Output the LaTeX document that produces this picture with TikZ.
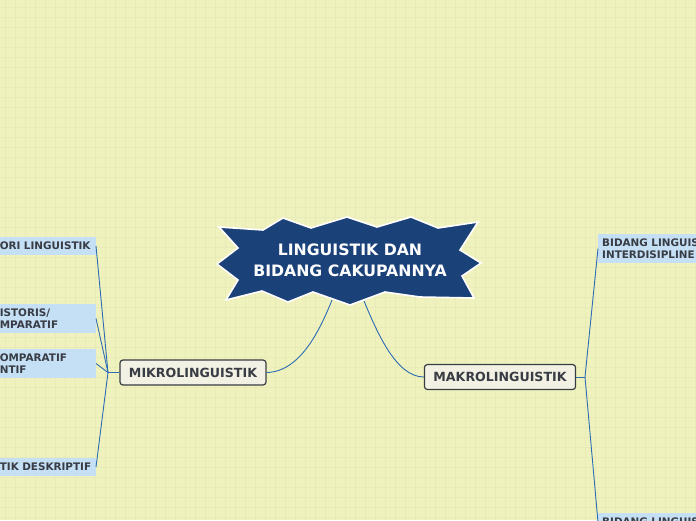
\documentclass[tikz,border=0pt]{standalone}
\usepackage{fontspec}
\setsansfont{DejaVu Sans}
\usetikzlibrary{positioning}
\definecolor{PaperYellow}{RGB}{240,242,190}
\definecolor{GridYellow}{RGB}{232,235,183}
\definecolor{StarBlue}{RGB}{27,65,121}
\definecolor{LinkBlue}{RGB}{43,108,180}
\definecolor{LeafBlue}{RGB}{197,223,244}
\definecolor{TopicFill}{RGB}{243,241,227}
\definecolor{InkGray}{RGB}{56,60,68}

\begin{document}
\begin{tikzpicture}[x=1pt, y=-1pt,
	topic/.style={draw=InkGray, line width=1.2pt, fill=TopicFill, rounded corners=3pt,
		inner xsep=9pt, minimum height=25pt, text=InkGray,
		font=\sffamily\bfseries\fontsize{12.6}{15}\selectfont},
	leafL/.style={fill=LeafBlue, anchor=east, text width=92pt, inner xsep=4pt, inner ysep=3pt,
		align=left, minimum height=18pt, text=InkGray,
		font=\sffamily\bfseries\fontsize{10.4}{12}\selectfont},
	leafR/.style={leafL, anchor=west, text width=130pt},
	link/.style={draw=LinkBlue, line width=0.9pt}]
	\useasboundingbox (0,0) rectangle (696,520);
	\clip (0,0) rectangle (696,520);
	\fill[PaperYellow] (0,0) rectangle (696,520);
	\foreach \gx in {5,15,...,695} \draw[GridYellow, line width=1pt] (\gx,0) -- (\gx,520);
	\foreach \gy in {7,17,...,517} \draw[GridYellow, line width=1pt] (0,\gy) -- (696,\gy);
	
	% central star
	\filldraw[fill=StarBlue, draw=white, line width=1.6pt, line join=miter]
		(219,227) -- (263,230) -- (283,218) -- (311,228) -- (347,217) -- (377,227)
		-- (411,217) -- (438,228) -- (478,222) -- (460,250) -- (481,263) -- (462,276)
		-- (474,298) -- (420,297) -- (385,292) -- (350,305) -- (313,292) -- (288,302)
		-- (262,291) -- (226,300) -- (238,280) -- (217,264) -- (238,248) -- cycle;
	\node[text=white, align=center, anchor=base,
		font=\sffamily\bfseries\fontsize{15.7}{21}\selectfont] (title) at (350,276)
		{LINGUISTIK DAN\\BIDANG CAKUPANNYA};
	\coordinate (starL) at (332,300);
	\coordinate (starR) at (364,301);
	
	\node[topic] (mikro) at (193,372.5) {MIKROLINGUISTIK};
	\node[topic] (makro) at (500,377) {MAKROLINGUISTIK};
	
	\node[leafL] (teori) at (96,246) {ORI LINGUISTIK};
	\node[leafL, minimum height=29pt] (historis) at (96,318.5) {ISTORIS/\\MPARATIF};
	\node[leafL, minimum height=29pt] (komparatif) at (96,363.5) {OMPARATIF\\NTIF};
	\node[leafL] (deskriptif) at (96,467) {TIK DESKRIPTIF};
	\node[leafR, minimum height=29pt] (interdis) at (598,248.5) {BIDANG LINGUIS\\INTERDISIPLINE};
	\node[leafR, anchor=north west, inner ysep=4pt] (terapan) at (598,513) {BIDANG LINGUIS};
	
	\draw[link] (starL) .. controls (320,330) and (300,372) .. (mikro.east);
	\draw[link] (starR) .. controls (377,332) and (396,377) .. (makro.west);
	
	\coordinate (mikroJ) at (108,372.5);
	\draw[link] (mikro.west) -- (mikroJ);
	\foreach \leaf in {teori,historis,komparatif,deskriptif}
		\draw[link] (mikroJ) -- (\leaf.east);
	
	\coordinate (makroJ) at (585,377);
	\draw[link] (makro.east) -- (makroJ);
	\draw[link] (makroJ) -- (interdis.west);
	\draw[link] (makroJ) -- (terapan.west);
\end{tikzpicture}
\end{document}
